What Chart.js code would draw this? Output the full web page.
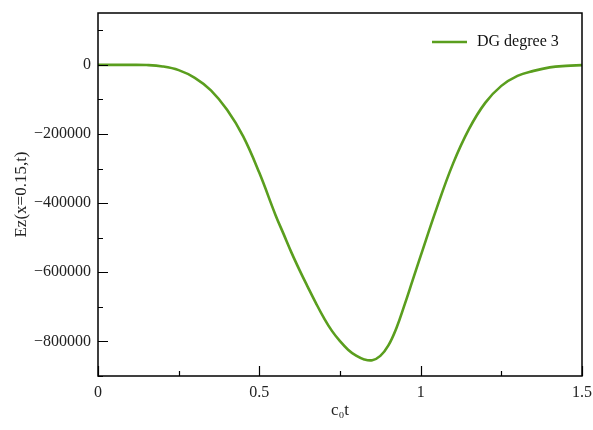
<!DOCTYPE html>
<html>
<head>
<meta charset="utf-8">
<script src="https://cdn.jsdelivr.net/npm/chart.js@4/dist/chart.umd.min.js"></script>
<style>
  body { margin: 0; background: #fff; }
  #wrap { width: 593px; height: 430px; }
</style>
</head>
<body>
<div id="wrap"><canvas id="ezChart"></canvas></div>
<script>
// Data: time (c0 t) and field value Ez at x=0.15
const tValues = [0, 0.05, 0.10, 0.15, 0.20, 0.25, 0.30, 0.35, 0.40, 0.45,
  0.50, 0.55, 0.575, 0.60, 0.625, 0.65, 0.675, 0.70, 0.725, 0.75,
  0.775, 0.80, 0.825, 0.85, 0.875, 0.90, 0.925, 0.95, 0.975, 1.00,
  1.05, 1.10, 1.15, 1.20, 1.25, 1.30, 1.35, 1.40, 1.45, 1.50];
const ezValues = [0, 0, 0, -600, -4600, -15300, -37600, -73800, -130200, -206800,
  -312400, -434000, -488900, -543900, -594500, -642200, -688500, -731900, -769500, -799300,
  -823900, -841300, -852000, -854300, -841900, -811500, -760900, -694300, -623400, -552600,
  -413700, -286400, -185200, -109900, -60800, -31800, -17400, -7200, -2900, -900];

// Tick values
const xMajorTicks = [0, 0.5, 1, 1.5];
const xMinorTicks = [0.25, 0.75, 1.25];
const yMajorTicks = [-800000, -600000, -400000, -200000, 0];
const yMinorTicks = [-900000, -700000, -500000, -300000, -100000, 100000];

const lineColor = '#5a9e1e';
const serif = '"Liberation Serif", "DejaVu Serif", serif';

// Frame box, inward ticks (left and bottom only) and the legend in the top right
const frameTicks = {
  id: 'frameTicks',
  afterDraw(chart) {
    const {ctx, chartArea: a, scales: {x, y}} = chart;
    ctx.save();
    ctx.strokeStyle = '#000';
    ctx.lineWidth = 1.2;
    ctx.beginPath();
    yMajorTicks.forEach(v => { const p = Math.round(y.getPixelForValue(v)) + 0.5; ctx.moveTo(a.left, p); ctx.lineTo(a.left + 10, p); });
    yMinorTicks.forEach(v => { const p = Math.round(y.getPixelForValue(v)) + 0.5; ctx.moveTo(a.left, p); ctx.lineTo(a.left + 5, p); });
    xMajorTicks.forEach(v => { const p = Math.round(x.getPixelForValue(v)) + 0.5; ctx.moveTo(p, a.bottom); ctx.lineTo(p, a.bottom - 10); });
    xMinorTicks.forEach(v => { const p = Math.round(x.getPixelForValue(v)) + 0.5; ctx.moveTo(p, a.bottom); ctx.lineTo(p, a.bottom - 5); });
    ctx.stroke();
    ctx.lineWidth = 1.5;
    ctx.strokeRect(a.left, a.top, a.right - a.left, a.bottom - a.top);

    // legend
    const ds = chart.data.datasets[0];
    const lx = a.right - 150, ly = a.top + 29;
    ctx.strokeStyle = ds.borderColor;
    ctx.lineWidth = ds.borderWidth;
    ctx.beginPath();
    ctx.moveTo(lx, ly);
    ctx.lineTo(lx + 35, ly);
    ctx.stroke();
    ctx.fillStyle = '#111';
    ctx.font = '16px ' + serif;
    ctx.textBaseline = 'middle';
    ctx.textAlign = 'left';
    ctx.fillText(ds.label, lx + 45, ly);
    ctx.restore();
  }
};

const ctx = document.getElementById('ezChart').getContext('2d');
new Chart(ctx, {
  type: 'line',
  data: {
    datasets: [{
      label: 'DG degree 3',
      data: tValues.map((t, i) => ({x: t, y: ezValues[i]})),
      borderColor: lineColor,
      backgroundColor: lineColor,
      borderWidth: 2.6,
      pointRadius: 0,
      tension: 0.4,
      fill: false
    }]
  },
  options: {
    responsive: true,
    maintainAspectRatio: false,
    animation: false,
    layout: { padding: { left: 0, top: 13, right: 11, bottom: 0 } },
    plugins: {
      tooltip: { enabled: false },
      legend: { display: false }
    },
    scales: {
      x: {
        type: 'linear',
        min: 0,
        max: 1.5,
        grid: { display: false, drawTicks: false },
        border: { display: false },
        afterBuildTicks: s => { s.ticks = xMajorTicks.map(v => ({value: v})); },
        afterFit: s => { s.height = 54; s.paddingLeft = 0; s.paddingRight = 0; },
        ticks: {
          padding: 7,
          color: '#222',
          font: { family: serif, size: 16 },
          callback: v => String(v)
        },
        title: {
          display: true,
          text: 'c\u2080t',
          color: '#222',
          font: { family: serif, size: 17 },
          padding: { top: 0, bottom: 9 }
        }
      },
      y: {
        min: -900000,
        max: 150000,
        grid: { display: false, drawTicks: false },
        border: { display: false },
        afterBuildTicks: s => { s.ticks = yMajorTicks.map(v => ({value: v})); },
        afterFit: s => { s.width = 98; s.paddingTop = 0; s.paddingBottom = 0; },
        ticks: {
          padding: 7,
          color: '#222',
          font: { family: serif, size: 16 },
          callback: v => v < 0 ? '\u2212' + Math.abs(v) : String(v)
        },
        title: {
          display: true,
          text: 'Ez(x=0.15,t)',
          color: '#222',
          font: { family: serif, size: 17 },
          padding: { top: 11, bottom: 0 }
        }
      }
    }
  },
  plugins: [frameTicks]
});
</script>
</body>
</html>
